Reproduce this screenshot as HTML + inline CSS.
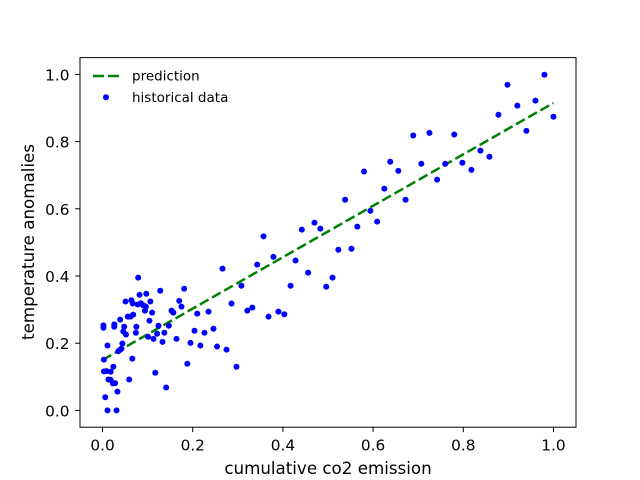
<!DOCTYPE html>
<html><head><meta charset="utf-8"><style>
html,body{margin:0;padding:0;background:#fff;}
svg{display:block;font-family:"DejaVu Sans","Liberation Sans",sans-serif;}
</style></head><body>
<svg id="chart" width="640" height="480" viewBox="0 0 640 480">
<rect width="640" height="480" fill="#fff"/>
<g id="marks"></g>
<rect x="80" y="57.6" width="496" height="369.6" fill="none" stroke="#000" stroke-width="1"/>
<g id="ticks"></g>
<text x="328" y="474" text-anchor="middle" font-size="16.7">cumulative co2 emission</text>
<text transform="translate(34,242) rotate(-90)" text-anchor="middle" font-size="16.7">temperature anomalies</text>
<g>
<line x1="93" y1="76" x2="121" y2="76" stroke="#008000" stroke-width="2.5" stroke-dasharray="11,4"/>
<text x="132" y="80.7" font-size="13.5">prediction</text>
<circle cx="106" cy="97.3" r="3" fill="#0000ff"/>
<text x="132" y="102" font-size="13.5">historical data</text>
</g>
</svg>
<script>
const xTicks=[0,0.2,0.4,0.6,0.8,1.0];
const yTicks=[0,0.2,0.4,0.6,0.8,1.0];
const xTickLabels=["0.0","0.2","0.4","0.6","0.8","1.0"];
const yTickLabels=["0.0","0.2","0.4","0.6","0.8","1.0"];
const predX=[0,1];
const predY=[0.15,0.915];
const histX=[0.079,0.002,0.002,0.026,0.026,0.011,0.003,0.003,0.009,0.018,0.024,0.013,0.018,0.023,0.028,0.033,0.006,0.011,0.031,0.059,0.066,0.035,0.039,0.042,0.044,0.046,0.052,0.048,0.039,0.056,0.062,0.068,0.051,0.064,0.067,0.078,0.085,0.090,0.096,0.082,0.097,0.106,0.094,0.110,0.104,0.075,0.074,0.101,0.113,0.121,0.124,0.137,0.133,0.147,0.117,0.141,0.128,0.153,0.157,0.170,0.175,0.181,0.164,0.188,0.195,0.204,0.210,0.217,0.226,0.235,0.246,0.254,0.275,0.266,0.286,0.297,0.308,0.321,0.332,0.343,0.368,0.390,0.403,0.417,0.428,0.456,0.357,0.379,0.442,0.470,0.483,0.538,0.625,0.672,0.594,0.609,0.565,0.523,0.552,0.510,0.496,0.742,0.980,0.898,0.920,0.960,0.878,1.0,0.940,0.780,0.838,0.858,0.760,0.798,0.818,0.689,0.725,0.638,0.656,0.707,0.580];
const histY=[0.395,0.253,0.246,0.256,0.249,0.193,0.151,0.116,0.117,0.115,0.130,0.092,0.091,0.080,0.081,0.056,0.039,0.0,0.0,0.092,0.154,0.176,0.181,0.184,0.199,0.235,0.226,0.249,0.270,0.279,0.279,0.285,0.324,0.328,0.318,0.315,0.319,0.313,0.309,0.344,0.347,0.324,0.297,0.291,0.267,0.249,0.231,0.219,0.213,0.228,0.252,0.231,0.204,0.252,0.112,0.068,0.356,0.297,0.291,0.326,0.309,0.362,0.213,0.139,0.201,0.237,0.288,0.193,0.231,0.294,0.243,0.190,0.181,0.422,0.318,0.130,0.371,0.297,0.306,0.434,0.279,0.294,0.286,0.371,0.446,0.410,0.518,0.457,0.538,0.559,0.541,0.627,0.660,0.627,0.594,0.562,0.547,0.478,0.481,0.395,0.368,0.687,0.999,0.969,0.907,0.922,0.880,0.874,0.832,0.821,0.773,0.755,0.734,0.737,0.716,0.818,0.826,0.740,0.713,0.734,0.711];

const L=80,R=576,T=57.6,B=427.2;
const xMin=-0.05,xMax=1.05,yMin=-0.05,yMax=1.05;
function sx(v){return L+(v-xMin)/(xMax-xMin)*(R-L);}
function sy(v){return B-(v-yMin)/(yMax-yMin)*(B-T);}
const NS="http://www.w3.org/2000/svg";
const marks=document.getElementById('marks');
const ticks=document.getElementById('ticks');

const ln=document.createElementNS(NS,'line');
ln.setAttribute('x1',sx(predX[0]));ln.setAttribute('y1',sy(predY[0]));
ln.setAttribute('x2',sx(predX[1]));ln.setAttribute('y2',sy(predY[1]));
ln.setAttribute('stroke','#008000');ln.setAttribute('stroke-width','2.5');
ln.setAttribute('stroke-dasharray','10,4');


marks.appendChild(ln);

for(let i=0;i<histX.length;i++){
  const c=document.createElementNS(NS,'circle');
  c.setAttribute('cx',sx(histX[i]));c.setAttribute('cy',sy(histY[i]));
  c.setAttribute('r','3');c.setAttribute('fill','#0000ff');
  
  
  marks.appendChild(c);
}

for(let i=0;i<xTicks.length;i++){
  const x=sx(xTicks[i]);
  const t=document.createElementNS(NS,'line');
  t.setAttribute('x1',x);t.setAttribute('x2',x);t.setAttribute('y1',B);t.setAttribute('y2',B+4.9);
  t.setAttribute('stroke','#000');
  
  
  ticks.appendChild(t);
  const tx=document.createElementNS(NS,'text');
  tx.setAttribute('x',x);tx.setAttribute('y',B+23.5);tx.setAttribute('text-anchor','middle');
  tx.setAttribute('font-size','15.3');tx.textContent=xTickLabels[i];
  
  
  ticks.appendChild(tx);
}
for(let i=0;i<yTicks.length;i++){
  const y=sy(yTicks[i]);
  const t=document.createElementNS(NS,'line');
  t.setAttribute('x1',L-4.9);t.setAttribute('x2',L);t.setAttribute('y1',y);t.setAttribute('y2',y);
  t.setAttribute('stroke','#000');
  
  
  ticks.appendChild(t);
  const tx=document.createElementNS(NS,'text');
  tx.setAttribute('x',L-10.5);tx.setAttribute('y',y+6);tx.setAttribute('text-anchor','end');
  tx.setAttribute('font-size','15.3');tx.textContent=yTickLabels[i];
  
  
  ticks.appendChild(tx);
}
</script>
</body></html>
